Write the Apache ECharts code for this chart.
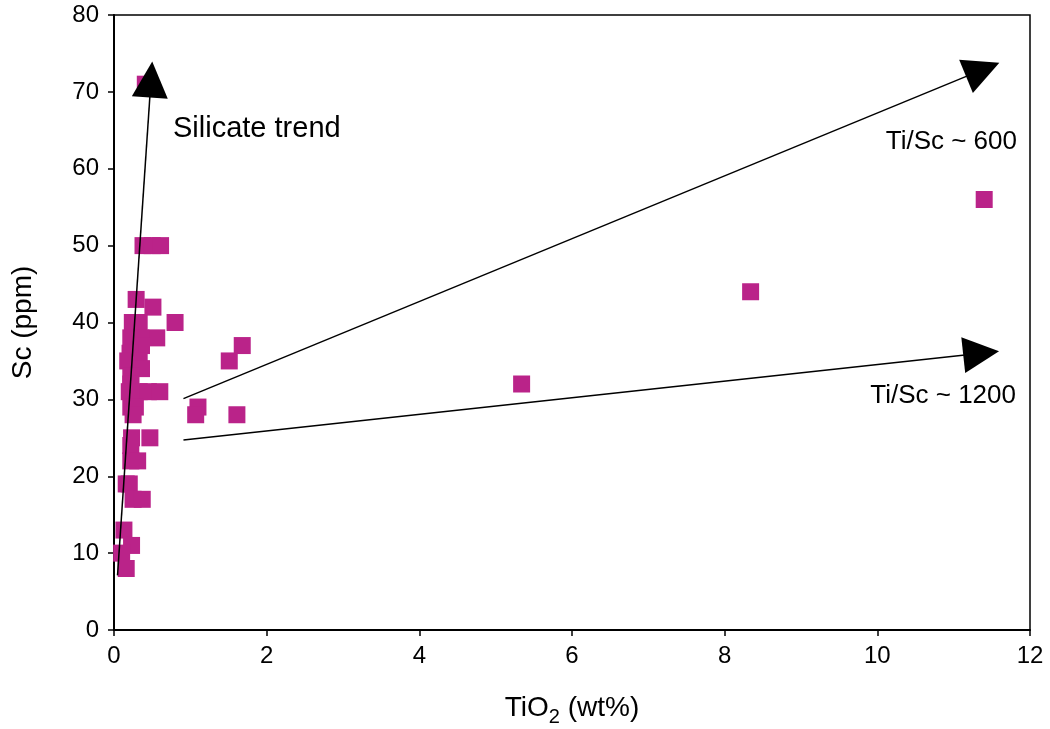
<!DOCTYPE html>
<html>
<head>
<meta charset="utf-8">
<script src="https://cdn.jsdelivr.net/npm/echarts@6/dist/echarts.min.js"></script>
<style>
html,body{margin:0;padding:0;background:#fff;}
#container{width:1050px;height:729px;}
</style>
</head>
<body>
<div id="container"></div>
<script>
// TiO2 (wt%) vs Sc (ppm)
var tio2 = [0.41, 0.38, 0.50, 0.61, 0.29, 0.51, 0.80, 0.24, 0.33, 0.56, 0.22, 0.35, 0.36, 0.21,
    0.18, 0.33, 0.36, 0.22, 0.22, 0.20, 0.33, 0.45, 0.60, 0.22, 0.28, 0.25, 1.10, 1.07, 1.61,
    1.51, 1.68, 0.23, 0.47, 0.22, 0.22, 0.31, 0.16, 0.20, 0.25, 0.37, 0.13, 0.23, 0.10, 0.16,
    5.34, 8.34, 11.40];
var sc = [71, 50, 50, 50, 43, 42, 40, 40, 40, 38, 38, 38, 37, 36,
    35, 35, 34, 33, 32, 31, 31, 31, 31, 29, 29, 28, 29, 28, 28,
    35, 37, 25, 25, 24, 22, 22, 19, 19, 17, 17, 13, 11, 10, 8,
    32, 44, 56];
// trend arrows: [start, arrow head centre]
var silicateTrend = [[0.046, 7.1], [0.485, 71.6]];
var ratio600 = [[0.91, 30.1], [11.38, 72.9]];
var ratio1200 = [[0.91, 24.7], [11.36, 36.0]];

var points = [];
for (var i = 0; i < tio2.length; i++) {
    points.push([tio2[i], sc[i]]);
}

var font = 'Liberation Sans, Arial, sans-serif';
var myChart = echarts.init(document.getElementById('container'));
myChart.setOption({
    animation: false,
    backgroundColor: '#fff',
    grid: {left: 114, right: 20, top: 15, bottom: 99, outerBoundsMode: 'none', containLabel: false,
        show: true, borderColor: '#000', borderWidth: 1.5},
    xAxis: {
        type: 'value', min: 0, max: 12, interval: 2,
        name: '{a|TiO}{s|2}{a| (wt%)}', nameLocation: 'middle', nameGap: 59,
        nameTextStyle: {rich: {
            a: {fontFamily: font, fontSize: 28, color: '#000'},
            s: {fontFamily: font, fontSize: 20, color: '#000', padding: [18, 0, 0, 0]}
        }},
        axisLine: {show: true, lineStyle: {color: '#000', width: 2}},
        axisTick: {show: true, length: 6, lineStyle: {color: '#000', width: 1.5}},
        axisLabel: {fontFamily: font, fontSize: 24, color: '#000', margin: 14},
        splitLine: {show: false}
    },
    yAxis: {
        type: 'value', min: 0, max: 80, interval: 10,
        name: 'Sc (ppm)', nameLocation: 'middle', nameGap: 77, nameRotate: 90,
        nameTextStyle: {fontFamily: font, fontSize: 28, color: '#000'},
        axisLine: {show: true, lineStyle: {color: '#000', width: 2}},
        axisTick: {show: true, length: 6, lineStyle: {color: '#000', width: 1.5}},
        axisLabel: {fontFamily: font, fontSize: 24, color: '#000', margin: 15},
        splitLine: {show: false}
    },
    series: [
        {
            type: 'scatter', data: points, symbol: 'rect', symbolSize: 17,
            itemStyle: {color: '#BA2389', opacity: 1}
        },
        {
            type: 'lines', coordinateSystem: 'cartesian2d', polyline: false,
            symbol: ['none', 'triangle'], symbolSize: [18, 36],
            lineStyle: {color: '#000', width: 1.5, opacity: 1},
            itemStyle: {color: '#000'},
            data: [
                {coords: silicateTrend},
                {coords: ratio600},
                {coords: ratio1200}
            ],
            z: 5
        }
    ],
    graphic: [
        {type: 'text', left: 173, top: 114, style: {text: 'Silicate trend', fontSize: 29, fontFamily: font, fill: '#000'}},
        {type: 'text', right: 33, top: 129, style: {text: 'Ti/Sc ~ 600', fontSize: 26, fontFamily: font, fill: '#000'}},
        {type: 'text', right: 34, top: 383, style: {text: 'Ti/Sc ~ 1200', fontSize: 26, fontFamily: font, fill: '#000'}}
    ]
});
</script>
</body>
</html>
